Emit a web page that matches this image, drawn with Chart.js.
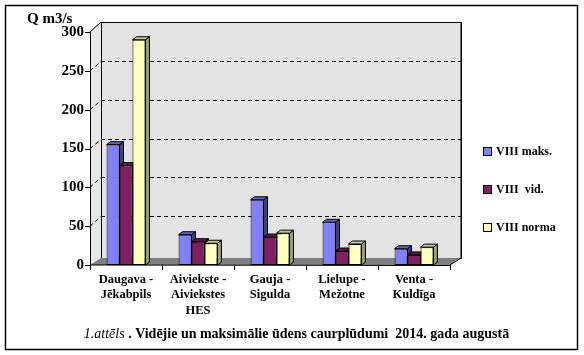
<!DOCTYPE html>
<html><head><meta charset="utf-8">
<script src="https://cdn.jsdelivr.net/npm/chart.js@4.4.1/dist/chart.umd.min.js"></script>
<style>html,body{margin:0;padding:0;background:#fff}canvas{display:block}</style>
</head><body>
<canvas id="c" width="584" height="355"></canvas>
<script>
const categories = [["Daugava -","Jēkabpils"],["Aiviekste -","Aiviekstes","HES"],["Gauja -","Sigulda"],["Lielupe -","Mežotne"],["Venta -","Kuldīga"]];
const seriesNames = ["VIII maks.","VIII  vid.","VIII norma"];
const maks = [155, 39, 84, 55, 21];
const vid = [128, 30, 36, 18, 13];
const norma = [290, 28, 41, 27, 23];
const yTickValues = [0, 50, 100, 150, 200, 250, 300];
const yTitle = "Q m3/s";
const captionItalic = "1.attēls";
const captionBold = " . Vidējie un maksimālie ūdens caurplūdumi  2014. gada augustā";

const fronts = ["#8080ff", "#802060", "#ffffc0"];
const sides  = ["#40407f", "#40102f", "#9c9c7a"];
const tops   = ["#6060c8", "#601848", "#c8c8a0"];
const SERIF = "'Liberation Serif','Times New Roman',serif";
const DX = 11, DY = -7, BX = 4, BY = -3;

const plugin3d = {
  id: 'excel3d',
  beforeDatasetsDraw(chart) {
    const ctx = chart.ctx, a = chart.chartArea, ys = chart.scales.y;
    const L = a.left, R = a.right, T = a.top, B = a.bottom;
    const topBack = ys.getPixelForValue(300) - 10;
    ctx.save();
    ctx.fillStyle = '#e6e6e6';
    ctx.beginPath(); ctx.moveTo(L, T); ctx.lineTo(L+DX, topBack); ctx.lineTo(L+DX, B+DY); ctx.lineTo(L, B); ctx.closePath(); ctx.fill();
    ctx.fillStyle = '#e3e3e3';
    ctx.fillRect(L+DX, topBack, R-L, B+DY-topBack);
    ctx.strokeStyle = '#000'; ctx.lineWidth = 1;
    ctx.strokeRect(L+DX+0.5, topBack+0.5, R-L, B+DY-topBack);
    ctx.setLineDash([4,3]);
    yTickValues.forEach(v => {
      if (v === 0 || v === 300) return;
      const y = Math.round(ys.getPixelForValue(v) - 10) + 0.5;
      ctx.beginPath(); ctx.moveTo(L+DX, y); ctx.lineTo(R+DX, y); ctx.stroke();
      const yf = ys.getPixelForValue(v);
      ctx.beginPath(); ctx.moveTo(L, yf); ctx.lineTo(L+DX, y); ctx.stroke();
    });
    ctx.setLineDash([]);
    ctx.beginPath(); ctx.moveTo(L, T); ctx.lineTo(L+DX, topBack); ctx.stroke();
    ctx.fillStyle = '#808080';
    ctx.beginPath(); ctx.moveTo(L, B); ctx.lineTo(L+DX, B+DY); ctx.lineTo(R+DX, B+DY); ctx.lineTo(R, B); ctx.closePath(); ctx.fill();
    ctx.beginPath(); ctx.moveTo(R, B); ctx.lineTo(R+DX, B+DY); ctx.lineTo(R+DX, topBack); ctx.stroke();
    ctx.lineWidth = 1; ctx.strokeStyle = '#000';
    chart.data.datasets.forEach((ds, di) => {
      chart.getDatasetMeta(di).data.forEach(el => {
        const x0 = el.x - el.width/2, x1 = el.x + el.width/2, yt = el.y, yb = el.base;
        ctx.fillStyle = sides[di];
        ctx.beginPath(); ctx.moveTo(x1, yb); ctx.lineTo(x1+BX, yb+BY); ctx.lineTo(x1+BX, yt+BY); ctx.lineTo(x1, yt); ctx.closePath(); ctx.fill(); ctx.stroke();
        ctx.fillStyle = tops[di];
        ctx.beginPath(); ctx.moveTo(x0, yt); ctx.lineTo(x0+BX, yt+BY); ctx.lineTo(x1+BX, yt+BY); ctx.lineTo(x1, yt); ctx.closePath(); ctx.fill(); ctx.stroke();
      });
    });
    ctx.restore();
  },
  afterDraw(chart) {
    const ctx = chart.ctx, a = chart.chartArea, ys = chart.scales.y;
    const L = a.left, R = a.right, B = a.bottom, T = a.top;
    ctx.save();
    ctx.strokeStyle = '#000'; ctx.lineWidth = 1;
    ctx.beginPath(); ctx.moveTo(L+0.5, T); ctx.lineTo(L+0.5, B); ctx.lineTo(R, B+0.5); ctx.stroke();
    yTickValues.forEach(v => {
      const y = Math.round(ys.getPixelForValue(v)) + 0.5;
      ctx.beginPath(); ctx.moveTo(L-5, y); ctx.lineTo(L, y); ctx.stroke();
    });
    const n = categories.length;
    for (let i = 0; i <= n; i++) {
      const x = Math.round(L + (R-L)*i/n) + 0.5;
      ctx.beginPath(); ctx.moveTo(x, B); ctx.lineTo(x, B+5); ctx.stroke();
    }
    ctx.lineWidth = 1.5;
    ctx.strokeRect(5.5, 5.5, 572, 344);
    ctx.fillStyle = '#000';
    ctx.font = "bold 15px " + SERIF;
    ctx.textBaseline = 'middle'; ctx.textAlign = 'left';
    ctx.fillText(yTitle, 27, 19);
    ctx.font = "bold 12px " + SERIF;
    const ly = [152, 190, 228];
    chart.data.datasets.forEach((ds, i) => {
      ctx.fillStyle = fronts[i];
      ctx.fillRect(483, ly[i]-4, 8, 8);
      ctx.lineWidth = 1; ctx.strokeRect(483.5, ly[i]-4.5, 8, 8);
      ctx.fillStyle = '#000';
      ctx.fillText(ds.label, 496, ly[i]);
    });
    ctx.font = "italic 14px " + SERIF;
    const w1 = ctx.measureText(captionItalic).width;
    ctx.font = "bold 14px " + SERIF;
    const w2 = ctx.measureText(captionBold).width;
    let cx = 296.5 - (w1 + w2)/2;
    ctx.font = "italic 14px " + SERIF;
    ctx.fillText(captionItalic, cx, 334);
    ctx.font = "bold 14px " + SERIF;
    ctx.fillText(captionBold, cx + w1, 334);
    ctx.restore();
  }
};

new Chart(document.getElementById('c'), {
  type: 'bar',
  data: {
    labels: categories,
    datasets: [
      { label: seriesNames[0], data: maks, backgroundColor: fronts[0] },
      { label: seriesNames[1], data: vid, backgroundColor: fronts[1] },
      { label: seriesNames[2], data: norma, backgroundColor: fronts[2] }
    ]
  },
  options: {
    responsive: false, animation: false,
    devicePixelRatio: 1,
    layout: { padding: { left: 0, right: 134, top: 32, bottom: 0 } },
    datasets: { bar: { categoryPercentage: 0.54, barPercentage: 1.0, borderColor: '#000', borderWidth: 1, borderSkipped: false } },
    plugins: { legend: { display: false }, tooltip: { enabled: false }, title: { display: false } },
    scales: {
      x: {
        grid: { display: false, tickLength: 0 }, border: { display: false },
        ticks: { color: '#000', font: { family: SERIF, size: 12.5, weight: 'bold', lineHeight: 1.23 }, padding: 7, maxRotation: 0, autoSkip: false },
        afterFit(s) { s.height = 90; }
      },
      y: {
        min: 0, max: 300,
        grid: { display: false, tickLength: 0 }, border: { display: false },
        ticks: { stepSize: 50, color: '#000', padding: 6, font: { family: SERIF, size: 15, weight: 'bold' } },
        afterFit(s) { s.width = 90; }
      }
    }
  },
  plugins: [plugin3d]
});
</script>
</body></html>
